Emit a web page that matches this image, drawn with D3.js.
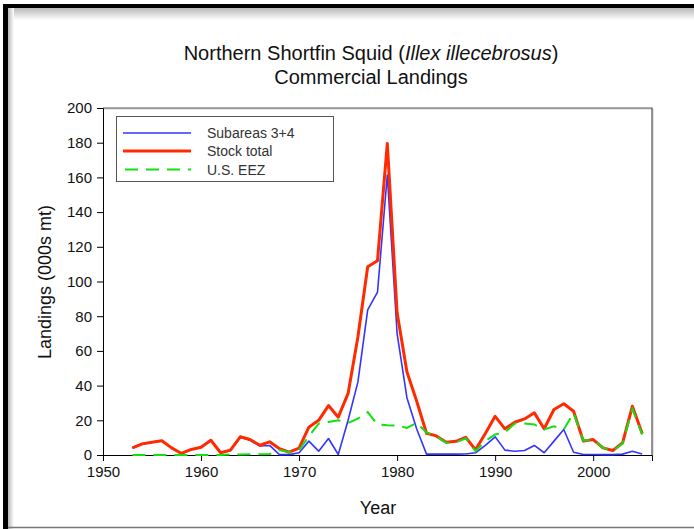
<!DOCTYPE html>
<html>
<head>
<meta charset="utf-8">
<script src="https://cdn.jsdelivr.net/npm/d3@7/dist/d3.min.js"></script>
<style>
  html, body { margin: 0; padding: 0; background: #fff; }
  svg { display: block; font-family: "Liberation Sans", Arial, sans-serif; }
</style>
</head>
<body>
<svg id="chart" width="694" height="529"></svg>
<script>
// ---- data ----
const years = d3.range(1953, 2006);
const stockTotal = [4.1, 6.4, 7.4, 8.2, 4.1, 0.9, 3.2, 4.5, 8.5, 1.3,
  2.8, 10.5, 8.9, 5.6, 7.6, 3.6, 1.6, 3.9, 16.0, 20.0,
  28.5, 21.8, 35.5, 68, 108.5, 112, 179.5, 82, 48, 31,
  12.5, 11, 7.3, 7.9, 10.2, 3.0, 12.4, 22.3, 15.1, 18.9,
  20.8, 24.3, 15.1, 26.2, 29.5, 25.2, 8.0, 8.9, 4.1, 2.6,
  7.0, 28.1, 12.4];
const subareas34 = [4.1, 6.4, 7.4, 8.2, 4.1, 0.9, 3.2, 4.5, 8.5, 1.3,
  2.5, 10.2, 8.5, 5.2, 5.5, 0.2, 0.2, 1.3, 8.0, 2.2,
  9.5, 0.3, 20, 42, 83.7, 93.9, 161.4, 70, 33, 15,
  0.5, 0.6, 0.5, 0.5, 0.6, 1.3, 5.5, 10.5, 2.8, 2.2,
  2.6, 5.5, 1.3, 8.0, 14.7, 1.6, 0.3, 0.3, 0.2, 0.2,
  0.5, 2.2, 0.6];
const usEEZ = [0, 0, 0, 0, 0, 0, 0, 0, 0, 0,
  0.3, 0.3, 0.4, 0.4, 0.6, 2.8, 1.6, 2.8, 10.8, 18.1,
  19.0, 20.0, 18.5, 21.0, 24.7, 17.6, 17.2, 17.0, 15.6, 18.5,
  13.0, 10.8, 7.0, 7.3, 9.6, 2.2, 8.0, 11.8, 13.0, 18.1,
  18.1, 17.6, 14.7, 16.6, 14.7, 24.3, 8.3, 8.9, 4.1, 2.6,
  6.6, 26.6, 11.8];
const seriesNames = ["Subareas 3+4", "Stock total", "U.S. EEZ"];
const xTickLabels = [1950, 1960, 1970, 1980, 1990, 2000];
const yTickLabels = [0, 20, 40, 60, 80, 100, 120, 140, 160, 180, 200];

// ---- layout ----
const svg = d3.select("#chart");
const L = 103, R = 652, T = 108, B = 455;
const x = d3.scaleLinear().domain([1950, 2006]).range([L, R]);
const y = d3.scaleLinear().domain([0, 200]).range([B, T]);

// outer frame with shadow
const defs = svg.append("defs");
const gTop = defs.append("linearGradient").attr("id", "shTop").attr("x1", 0).attr("y1", 0).attr("x2", 0).attr("y2", 1);
gTop.append("stop").attr("offset", "0%").attr("stop-color", "#b8b8b8");
gTop.append("stop").attr("offset", "100%").attr("stop-color", "#ffffff");
const gLeft = defs.append("linearGradient").attr("id", "shLeft").attr("x1", 0).attr("y1", 0).attr("x2", 1).attr("y2", 0);
gLeft.append("stop").attr("offset", "0%").attr("stop-color", "#b8b8b8");
gLeft.append("stop").attr("offset", "100%").attr("stop-color", "#ffffff");
svg.append("rect").attr("x", 8).attr("y", 8).attr("width", 686).attr("height", 12).attr("fill", "url(#shTop)");
svg.append("rect").attr("x", 8).attr("y", 8).attr("width", 6).attr("height", 521).attr("fill", "url(#shLeft)");
svg.append("rect").attr("x", 3).attr("y", 4).attr("width", 691).attr("height", 4).attr("fill", "#000");
svg.append("rect").attr("x", 3).attr("y", 4).attr("width", 5).attr("height", 525).attr("fill", "#000");
svg.append("line").attr("x1", 8).attr("x2", 694).attr("y1", 527.5).attr("y2", 527.5).attr("stroke", "#777").attr("stroke-width", 1.5);

// title
const title = svg.append("text").attr("x", 371).attr("y", 60).attr("text-anchor", "middle")
  .attr("font-size", 20).attr("fill", "#111");
title.append("tspan").text("Northern Shortfin Squid (");
title.append("tspan").attr("font-style", "italic").text("Illex illecebrosus");
title.append("tspan").text(")");
svg.append("text").attr("x", 371).attr("y", 84).attr("text-anchor", "middle")
  .attr("font-size", 20).attr("fill", "#111").text("Commercial Landings");

// plot box (top/right)
svg.append("path").attr("d", `M${L},${T}H${R}V${B}`).attr("fill", "none")
  .attr("stroke", "#c8c8c8").attr("stroke-width", 1).attr("transform", "translate(1,1)");
svg.append("path").attr("d", `M${L},${T}H${R}V${B}`).attr("fill", "none")
  .attr("stroke", "#555").attr("stroke-width", 1.2);

// axes
const xAxis = d3.axisBottom(x).tickValues(xTickLabels).tickFormat(d3.format("d")).tickSize(6).tickPadding(5);
const xMinor = d3.axisBottom(x).tickValues(d3.range(1950, 2006, 2)).tickFormat("").tickSize(4);
const yAxis = d3.axisLeft(y).tickValues(yTickLabels).tickSize(6).tickPadding(5);
const yMinor = d3.axisLeft(y).tickValues(d3.range(0, 201, 4)).tickFormat("").tickSize(4);

const gx = svg.append("g").attr("transform", `translate(0,${B})`);
gx.call(xMinor);
gx.call(xAxis);
const gy = svg.append("g").attr("transform", `translate(${L},0)`);
gy.call(yMinor);
gy.call(yAxis);
svg.selectAll(".domain").attr("stroke", "#000");
svg.selectAll(".tick line").attr("stroke", "#000");
svg.selectAll(".tick text").attr("font-size", 15).attr("fill", "#111")
  .attr("font-family", "'Liberation Sans', Arial, sans-serif");

// axis titles
svg.append("text").attr("x", 378).attr("y", 514).attr("text-anchor", "middle")
  .attr("font-size", 18).attr("fill", "#111").text("Year");
svg.append("text").attr("transform", "translate(51,282) rotate(-90)").attr("text-anchor", "middle")
  .attr("font-size", 18).attr("fill", "#111").text("Landings (000s mt)");

// lines
const line = vals => d3.line().x((d, i) => x(years[i])).y(d => y(d))(vals);
svg.append("path").attr("d", line(subareas34)).attr("fill", "none")
  .attr("stroke", "#3434ff").attr("stroke-width", 1.6).attr("stroke-linejoin", "round");
svg.append("path").attr("d", line(stockTotal)).attr("fill", "none")
  .attr("stroke", "#ff2a00").attr("stroke-width", 3).attr("stroke-linejoin", "round");
svg.append("path").attr("d", line(usEEZ)).attr("fill", "none")
  .attr("stroke", "#11e011").attr("stroke-width", 2).attr("stroke-dasharray", "13,8");

// legend
const lg = svg.append("g");
lg.append("rect").attr("x", 116.5).attr("y", 116.5).attr("width", 217).attr("height", 65)
  .attr("fill", "#fff").attr("stroke", "#555").attr("stroke-width", 1);
const legendStyles = [
  { c: "#3434ff", w: 1.6, dash: null },
  { c: "#ff2a00", w: 3, dash: null },
  { c: "#11e011", w: 2, dash: "13,8" }
];
const legendY = [133, 151, 169.5];
seriesNames.forEach((name, i) => {
  const s = legendStyles[i];
  const ln = lg.append("line").attr("x1", 123).attr("x2", 191).attr("y1", legendY[i]).attr("y2", legendY[i])
    .attr("stroke", s.c).attr("stroke-width", s.w);
  if (s.dash) ln.attr("stroke-dasharray", s.dash).attr("x1", 125);
  lg.append("text").attr("x", 207).attr("y", legendY[i] + 5).attr("font-size", 14)
    .attr("fill", "#333").text(name);
});
</script>
</body>
</html>
